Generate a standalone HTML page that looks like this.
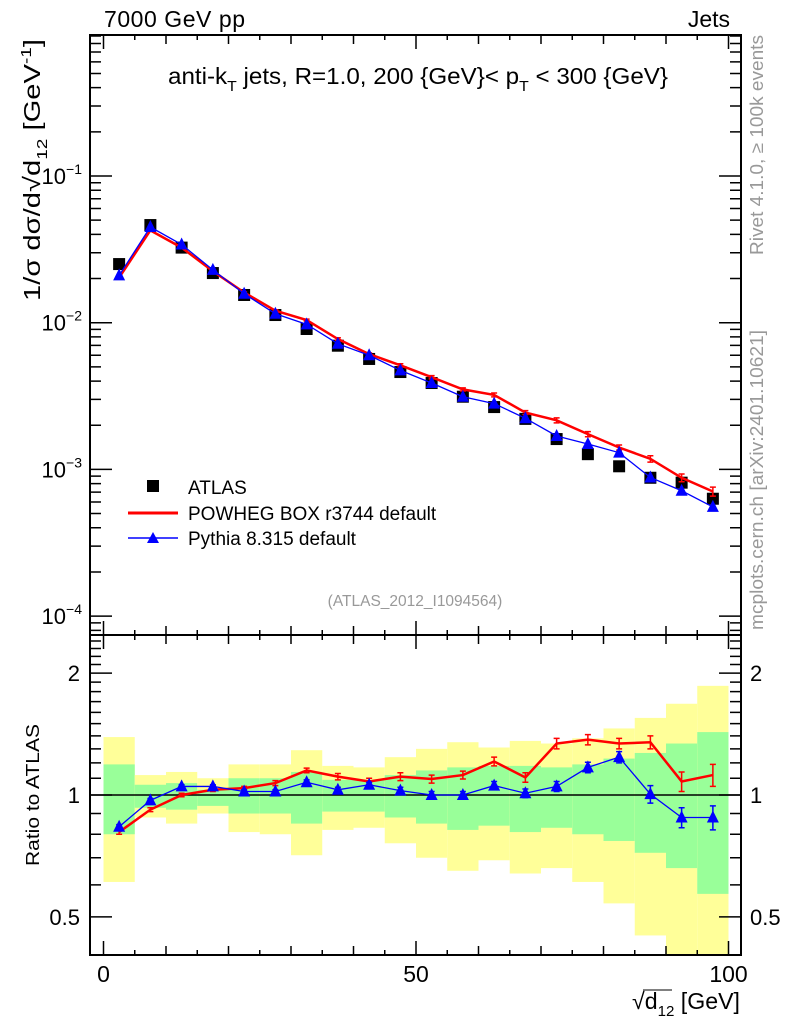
<!DOCTYPE html>
<html><head><meta charset="utf-8"><style>
html,body{margin:0;padding:0;background:#fff;}
svg{display:block;font-family:"Liberation Sans",sans-serif;}
</style></head><body>
<svg id="c" width="786" height="1024" viewBox="0 0 786 1024" xmlns="http://www.w3.org/2000/svg">
<rect x="0" y="0" width="786" height="1024" fill="#fff"/>
<g id="bands"></g>
<g id="marks"></g>
<g id="axes" stroke="#000" fill="none"></g>
<text x="104" y="27" font-size="23" textLength="141">7000 GeV pp</text>
<text x="730" y="27" font-size="23" text-anchor="end">Jets</text>
<text x="418" y="84" font-size="23" text-anchor="middle" textLength="500" lengthAdjust="spacingAndGlyphs">anti-k<tspan font-size="15" dy="7">T</tspan><tspan dy="-7"> jets, R=1.0, 200 {GeV}&lt; p</tspan><tspan font-size="15" dy="7">T</tspan><tspan dy="-7"> &lt; 300 {GeV}</tspan></text>
<text transform="translate(40,170) rotate(-90)" font-size="23" text-anchor="middle" textLength="262" lengthAdjust="spacingAndGlyphs">1/σ dσ/d√d<tspan font-size="15" dy="7">12</tspan><tspan dy="-7"> [GeV</tspan><tspan font-size="15" dy="-9">-1</tspan><tspan dy="9">]</tspan></text>
<text transform="translate(763,145) rotate(-90)" font-size="18" fill="#999" text-anchor="middle" textLength="220" lengthAdjust="spacingAndGlyphs">Rivet 4.1.0, ≥ 100k events</text>
<text transform="translate(763,480) rotate(-90)" font-size="18" fill="#999" text-anchor="middle" textLength="300" lengthAdjust="spacingAndGlyphs">mcplots.cern.ch [arXiv:2401.10621]</text>
<text x="415" y="606" font-size="15.5" fill="#999" text-anchor="middle">(ATLAS_2012_I1094564)</text>
<text transform="translate(39,795) rotate(-90)" font-size="18" text-anchor="middle" textLength="142" lengthAdjust="spacingAndGlyphs">Ratio to ATLAS</text>
<text x="740" y="1009" font-size="23" text-anchor="end" textLength="108" lengthAdjust="spacingAndGlyphs">√d<tspan font-size="15" dy="7">12</tspan><tspan dy="-7"> [GeV]</tspan></text>
<line x1="643" y1="990" x2="672" y2="990" stroke="#000" stroke-width="1"/>
<g>
<rect x="147" y="480" width="12" height="12" fill="#000"/>
<text x="188" y="494" font-size="19">ATLAS</text>
<line x1="128" y1="513" x2="178" y2="513" stroke="#f00" stroke-width="3"/>
<text x="188" y="520" font-size="19">POWHEG BOX r3744 default</text>
<line x1="128" y1="538" x2="178" y2="538" stroke="#00f" stroke-width="1.5"/>
<polygon points="147,543 159,543 153,532" fill="#00f"/>
<text x="188" y="545" font-size="19">Pythia 8.315 default</text>
</g>
</svg>
<script>
const binEdges=[0,5,10,15,20,25,30,35,40,45,50,55,60,65,70,75,80,85,90,95,100];
const atlasValues=[0.0251,0.0463,0.0325,0.0218,0.01545,0.01128,0.00906,0.00697,0.00566,0.00461,0.00388,0.00313,0.00266,0.00221,0.00161,0.00127,0.00105,0.000877,0.000812,0.000631];
const powhegValues=[0.0203,0.0426,0.0325,0.02245,0.01607,0.01207,0.01042,0.00774,0.00611,0.00512,0.00425,0.00351,0.00322,0.00244,0.00216,0.00174,0.00141,0.00118,0.000877,0.000707];
const pythiaValues=[0.0210,0.0449,0.0341,0.0229,0.01576,0.01151,0.00974,0.00718,0.0060,0.00473,0.00388,0.00313,0.00281,0.00223,0.00169,0.00149,0.0013,0.000881,0.000715,0.000555];
const powhegRatio=[0.81,0.92,1.00,1.03,1.04,1.07,1.15,1.11,1.08,1.11,1.095,1.12,1.21,1.105,1.34,1.37,1.34,1.35,1.08,1.12];
const pythiaRatio=[0.835,0.97,1.05,1.05,1.02,1.02,1.075,1.03,1.06,1.025,1.00,1.00,1.055,1.01,1.05,1.17,1.24,1.005,0.88,0.88];
const powhegErr=[0.01,0.01,0.01,0.01,0.01,0.015,0.015,0.02,0.02,0.025,0.025,0.025,0.03,0.03,0.04,0.04,0.04,0.05,0.06,0.07];
const pythiaErr=[0.01,0.01,0.01,0.01,0.01,0.01,0.015,0.015,0.015,0.02,0.02,0.02,0.025,0.025,0.03,0.035,0.04,0.05,0.05,0.06];
const greenHi=[1.19,1.06,1.07,1.03,1.10,1.10,1.14,1.09,1.09,1.12,1.15,1.17,1.18,1.18,1.17,1.19,1.23,1.27,1.34,1.43];
const greenLo=[0.80,0.93,0.92,0.94,0.90,0.90,0.85,0.91,0.91,0.88,0.85,0.82,0.84,0.81,0.83,0.80,0.77,0.72,0.66,0.57];
const yellowHi=[1.39,1.12,1.14,1.10,1.19,1.19,1.29,1.18,1.17,1.24,1.30,1.35,1.31,1.36,1.34,1.38,1.46,1.55,1.68,1.86];
const yellowLo=[0.61,0.88,0.85,0.90,0.81,0.80,0.71,0.82,0.83,0.76,0.70,0.65,0.69,0.64,0.66,0.61,0.54,0.45,0.35,0.30];
const xTicks=[0,50,100];
const mainTicks=[1e-4,1e-3,1e-2,1e-1];
const mainTickLabels=["10","10","10","10"];
const mainTickExp=["−4","−3","−2","−1"];
const ratioTicks=[0.5,1,2];
const ratioTickLabels=["0.5","1","2"];

const NS="http://www.w3.org/2000/svg";
const L=90,R=741,T=35,MID=635,B=955;
const X=v=>103.5+v*6.25;
const Y=v=>176-(Math.log10(v)+1)*146.7;
const YR=r=>Math.max(MID,Math.min(B,795-Math.log10(r)*405));
function mk(tag,attrs,parent){const e=document.createElementNS(NS,tag);for(const k in attrs)e.setAttribute(k,attrs[k]);parent.appendChild(e);return e;}
const bands=document.getElementById('bands'),marks=document.getElementById('marks'),axes=document.getElementById('axes'),svg=document.getElementById('c');
const centers=[];for(let i=0;i<binEdges.length-1;i++)centers.push((binEdges[i]+binEdges[i+1])/2);

for(let i=0;i<centers.length;i++){
  const x0=X(binEdges[i]),x1=X(binEdges[i+1]);
  const y=mk('rect',{x:x0,y:YR(yellowHi[i]),width:x1-x0,height:YR(yellowLo[i])-YR(yellowHi[i]),fill:'#ffff99'},bands);
  
  
  const g=mk('rect',{x:x0,y:YR(greenHi[i]),width:x1-x0,height:YR(greenLo[i])-YR(greenHi[i]),fill:'#99ff99'},bands);
  
  
}
const one=mk('line',{x1:L,x2:R,y1:YR(1),y2:YR(1),stroke:'#000','stroke-width':1.5},bands);



function series(vals,yf,color,w,name,errs,rel){
  const pts=vals.map((v,i)=>X(centers[i])+','+yf(v)).join(' ');
  const pl=mk('polyline',{points:pts,fill:'none',stroke:color,'stroke-width':w},marks);
  
  
  if(errs){vals.forEach((v,i)=>{
    const e=rel?v*errs[i]:errs[i];const cx=X(centers[i]);
    const hi=yf(v+e),lo=yf(v-e);
    const eb=mk('path',{d:`M${cx},${hi}V${lo}M${cx-3},${hi}H${cx+3}M${cx-3},${lo}H${cx+3}`,stroke:color,'stroke-width':1.5,fill:'none'},marks);
    
    
  });}
}
function tris(vals,yf,name){vals.forEach((v,i)=>{const cx=X(centers[i]),cy=yf(v);
  const t=mk('polygon',{points:`${cx-6},${cy+5} ${cx+6},${cy+5} ${cx},${cy-7}`,fill:'#00f'},marks);
  
  });}

series(powhegRatio,YR,'#f00',2.5,'powheg-ratio',powhegErr,false);
series(pythiaRatio,YR,'#00f',1.3,'pythia-ratio',pythiaErr,false);
tris(pythiaRatio,YR,'pythia-ratio');
atlasValues.forEach((v,i)=>{const r=mk('rect',{x:X(centers[i])-6,y:Y(v)-6,width:12,height:12,fill:'#000'},marks);
  
  });
series(powhegValues,Y,'#f00',2.5,'powheg',powhegErr,true);
series(pythiaValues,Y,'#00f',1.3,'pythia',null,false);
tris(pythiaValues,Y,'pythia');

const f1=mk('rect',{x:L,y:T,width:R-L,height:MID-T,'stroke-width':2},axes);


const f2=mk('rect',{x:L,y:MID,width:R-L,height:B-MID,'stroke-width':2},axes);


let d='';
for(let v=0;v<=100;v+=5){const len=v%50==0?14:(v%10==0?9:5);const x=X(v);
  d+=`M${x},${B}v${-len}M${x},${MID}v${-len}M${x},${MID}v${len}M${x},${T}v${len}`;}
for(let e=-5;e<=-1;e++)for(let m=1;m<=9;m++){const v=m*Math.pow(10,e);const y=Y(v);if(y<T||y>MID)continue;
  const len=m==1?22:11;d+=`M${L},${y}h${len}M${R},${y}h${-len}`;}
for(let k=4;k<=24;k++){const r=k/10;const y=795-Math.log10(r)*405;if(y<MID||y>B)continue;
  const len=(r==0.5||r==1||r==2)?22:11;d+=`M${L},${y}h${len}M${R},${y}h${-len}`;}
const tk=mk('path',{d:d,'stroke-width':1.5},axes);



xTicks.forEach(v=>{const t=mk('text',{x:X(v),y:982,'font-size':23,'text-anchor':'middle'},svg);t.textContent=v;
  
  });
mainTicks.forEach((v,i)=>{const t=mk('text',{x:82,y:Y(v)+8,'font-size':22,'text-anchor':'end'},svg);
  t.textContent=mainTickLabels[i];
  const s=mk('tspan',{'font-size':14,dy:-10},t);s.textContent=mainTickExp[i];
  
  });
ratioTicks.forEach((v,i)=>{[[80,'end'],[750,'start']].forEach(([x,a])=>{
  const t=mk('text',{x:x,y:YR(v)+8,'font-size':22,'text-anchor':a},svg);t.textContent=ratioTickLabels[i];
  
  });});
</script>
</body></html>
